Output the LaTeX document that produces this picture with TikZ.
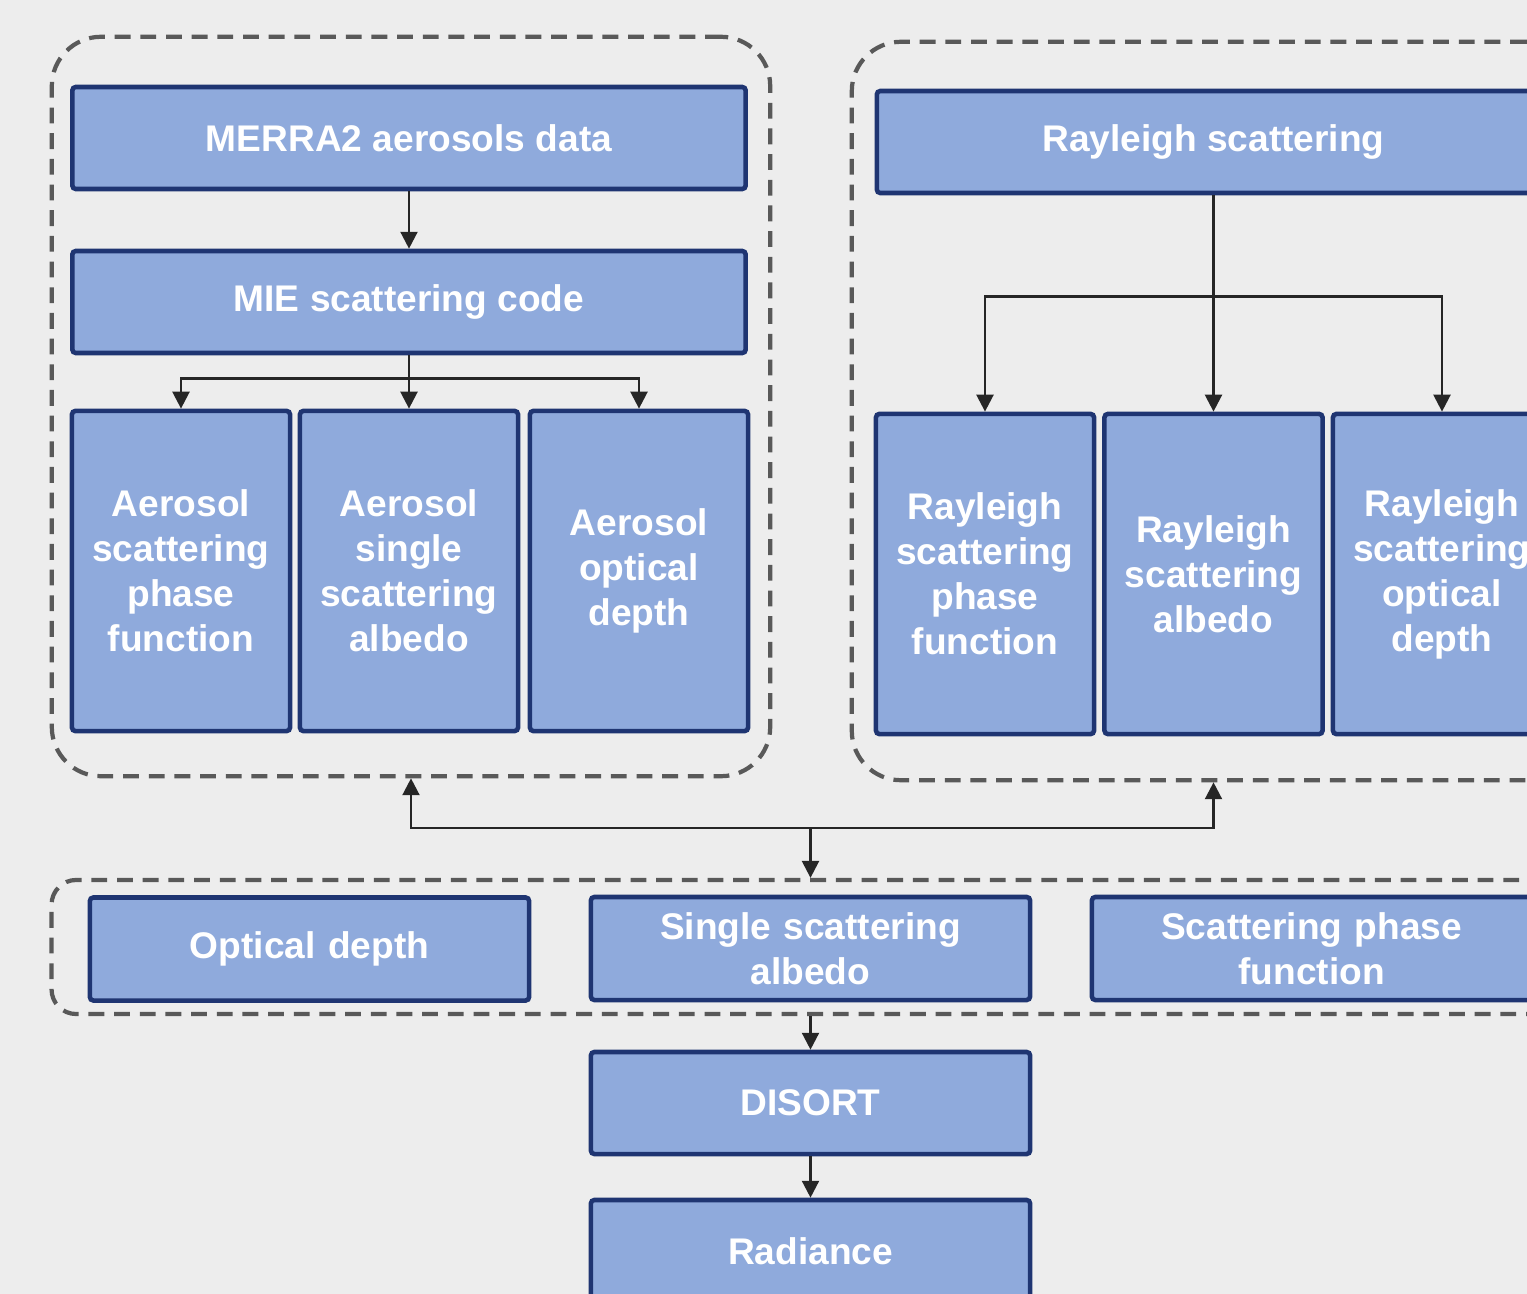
\documentclass[tikz,border=0pt]{standalone}
\usepackage{fontspec}
\setmainfont{Liberation Sans}
\usetikzlibrary{arrows.meta}
\usetikzlibrary{positioning}

\definecolor{bgcol}{HTML}{EDEDED}
\definecolor{boxfill}{HTML}{8FAADC}
\definecolor{boxline}{HTML}{1F3572}
\definecolor{dashcol}{HTML}{595959}
\definecolor{arrcol}{HTML}{262626}

\tikzset{
  blk/.style={draw=boxline, fill=boxfill, line width=1.3pt, rounded corners=1pt, text=white,
    font=\fontsize{10.55}{12.8}\selectfont\bfseries, align=center, inner sep=0pt},
  wide/.style={blk, minimum width=6.73cm, minimum height=1.02cm},
  tall/.style={blk, minimum width=2.18cm, minimum height=3.2cm, text width=2.1cm},
  mid/.style={blk, minimum width=4.39cm, minimum height=1.03cm, text width=4.2cm},
  group/.style={draw=dashcol, line width=1.2pt, dash pattern=on 4.5pt off 2.8pt, rounded corners=14pt, inner sep=0pt},
  arr/.style={draw=arrcol, line width=0.7pt, -{Triangle[length=4.8pt,width=4.8pt]}}
}

\begin{document}
\begin{tikzpicture}[x=0.01cm, y=-0.01cm]
        \path[use as bounding box, clip] (0,0) rectangle (1527,1294);
        \fill[bgcol] (0,0) rectangle (1527,1294);

        % dashed groups
        \node[group, minimum width=7.18cm, minimum height=7.39cm] (aerbox) at (411,406.5) {};
        \node[group, minimum width=7.23cm, minimum height=7.38cm] (raybox) at (1213.5,411) {};
        \node[group, rounded corners=7pt, minimum width=15.17cm, minimum height=1.34cm] (inputs) at (810.5,947) {};

        % aerosol side
        \node[wide] (merra) at (409,138) {MERRA2 aerosols data};
        \node[wide] (mie) at (409,302) {MIE scattering code};
        \node[tall] (apf) at (181,571) {Aerosol\\scattering\\phase\\function};
        \node[tall] (assa) at (409,571) {Aerosol\\single\\scattering\\albedo};
        \node[tall] (aod) at (639,571) {Aerosol\\optical\\depth};

        % rayleigh side
        \node[wide] (rs) at (1213.5,142) {Rayleigh scattering};
        \node[tall] (rpf) at (985,574) {Rayleigh\\scattering\\phase\\function};
        \node[tall] (rssa) at (1213.5,574) {Rayleigh\\scattering\\albedo};
        \node[tall] (rod) at (1442,574) {Rayleigh\\scattering\\optical\\depth};

        % combined inputs
        \node[mid] (od) at (309.5,949) {Optical depth};
        \node[mid] (ssa) at (810.5,948.5) {Single scattering\\albedo};
        \node[mid] (spf) at (1311.5,948.5) {Scattering phase\\function};

        \node[wide, minimum width=4.39cm] (disort) at (810.5,1103) {DISORT};
        \node[wide, minimum width=4.39cm] (rad) at (810.5,1251) {Radiance};

        \draw[arr] (merra) -- (mie);
        \draw[arr] (mie) -- (assa);
        \draw[arr] (mie.south) -- ++(0,23) -| (apf.north);
        \draw[arr] (mie.south) -- ++(0,23) -| (aod.north);

        \draw[arr] (rs) -- (rssa);
        \draw[arr] (rs.south) -- ++(0,101) -| (rpf.north);
        \draw[arr] (rs.south) -- ++(0,101) -| (rod.north);

        \coordinate (hub) at (810.5,828);
        \draw[arr] (hub) -| (aerbox.south);
        \draw[arr] (hub) -| (raybox.south);
        \draw[arr] (hub) -- (inputs.north);

        \draw[arr] (inputs) -- (disort);
        \draw[arr] (disort) -- (rad);
\end{tikzpicture}
\end{document}
